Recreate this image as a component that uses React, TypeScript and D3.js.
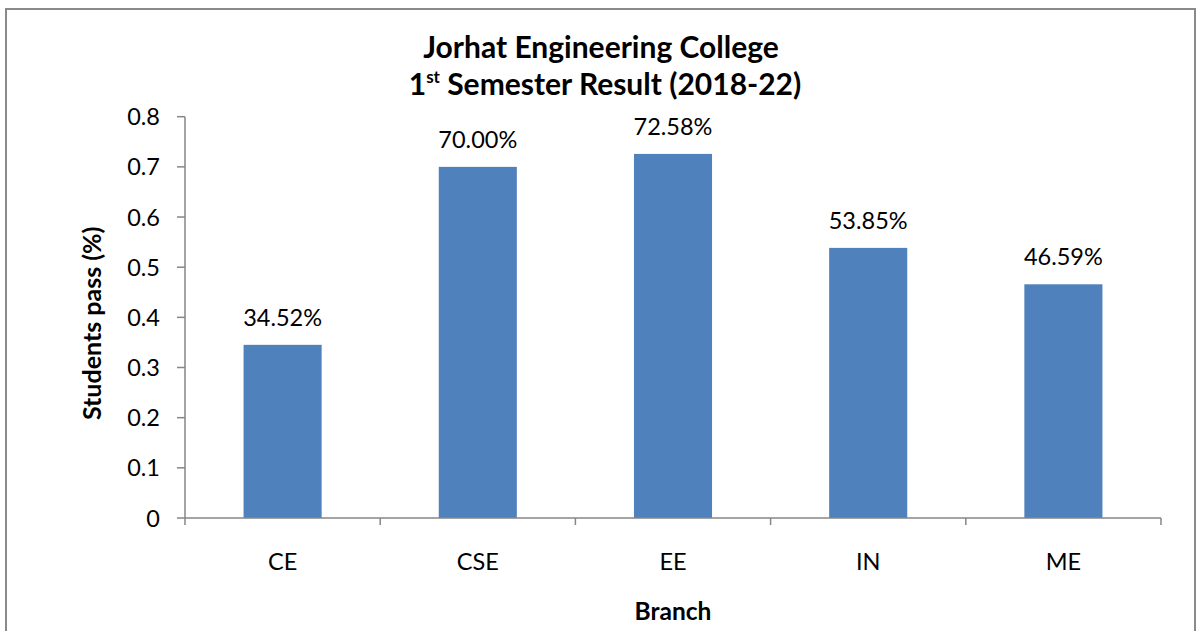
import React from "react";
import * as d3 from "d3";

const categories = ["CE", "CSE", "EE", "IN", "ME"];
const values = [0.3452, 0.7, 0.7258, 0.5385, 0.4659];
const yTicks = [0, 0.1, 0.2, 0.3, 0.4, 0.5, 0.6, 0.7, 0.8];

const W = 1197;
const H = 631;
const margin = { left: 185, right: 1161, top: 116.7, bottom: 518 };
const FONT = "Lato, 'Open Sans', sans-serif";
const FS = 23.5;

export default function App() {
  const x = d3
    .scaleBand<string>()
    .domain(categories)
    .range([margin.left, margin.right])
    .paddingInner(0.6)
    .paddingOuter(0.3);
  const xOuter = d3.scaleBand<string>().domain(categories).range([margin.left, margin.right]);
  const y = d3.scaleLinear().domain([0, 0.8]).range([margin.bottom, margin.top]);
  const axisColor = "#868686";
  const tickPos = [...categories.map((c) => xOuter(c) as number), margin.right];

  return (
    <svg width={W} height={H} style={{ position: "absolute", left: 0, top: 0 }}>
      <rect x={0} y={0} width={W} height={H} fill="#fff" />
      <path d={`M6,${H} V9 H1195 V${H}`} fill="none" stroke="#8a8a8a" strokeWidth={2} />
      <text x={601} y={58} textAnchor="middle" fontFamily={FONT} fontWeight="bold" fontSize={30}>
        Jorhat Engineering College
      </text>
      <text x={605} y={95} textAnchor="middle" fontFamily={FONT} fontWeight="bold" fontSize={30}>
        1<tspan fontSize={17} dy={-12}>st</tspan>
        <tspan dy={12}> Semester Result (2018-22)</tspan>
      </text>
      {categories.map((c, i) => (
        <g key={c}>
          <rect
            x={x(c)}
            y={y(values[i])}
            width={x.bandwidth()}
            height={y(0) - y(values[i])}
            fill="#4F81BD"
          />
          <text
            x={(x(c) as number) + x.bandwidth() / 2}
            y={y(values[i]) - 19}
            textAnchor="middle"
            fontFamily={FONT}
            fontSize={FS}
            fill="#000"
          >
            {(values[i] * 100).toFixed(2)}%
          </text>
          <text
            x={(x(c) as number) + x.bandwidth() / 2}
            y={570}
            textAnchor="middle"
            fontFamily={FONT}
            fontSize={FS}
          >
            {c}
          </text>
        </g>
      ))}
      <line x1={margin.left} x2={margin.left} y1={y(0.8)} y2={y(0)} stroke={axisColor} strokeWidth={1.5} />
      <line x1={margin.left} x2={margin.right} y1={y(0)} y2={y(0)} stroke={axisColor} strokeWidth={1.5} />
      {yTicks.map((t) => (
        <g key={t}>
          <line x1={177} x2={margin.left} y1={y(t)} y2={y(t)} stroke={axisColor} strokeWidth={1.5} />
          <text x={160} y={y(t) + 8.5} textAnchor="end" fontFamily={FONT} fontSize={FS}>
            {String(t)}
          </text>
        </g>
      ))}
      {tickPos.map((p, i) => (
        <line key={i} x1={p} x2={p} y1={y(0)} y2={y(0) + 7} stroke={axisColor} strokeWidth={1.5} />
      ))}
      <text
        transform={`translate(101,${(margin.top + margin.bottom) / 2 + 6}) rotate(-90)`}
        textAnchor="middle"
        fontFamily={FONT}
        fontWeight="bold"
        fontSize={25}
      >
        Students pass (%)
      </text>
      <text x={673} y={620} textAnchor="middle" fontFamily={FONT} fontWeight="bold" fontSize={24.5}>
        Branch
      </text>
    </svg>
  );
}
